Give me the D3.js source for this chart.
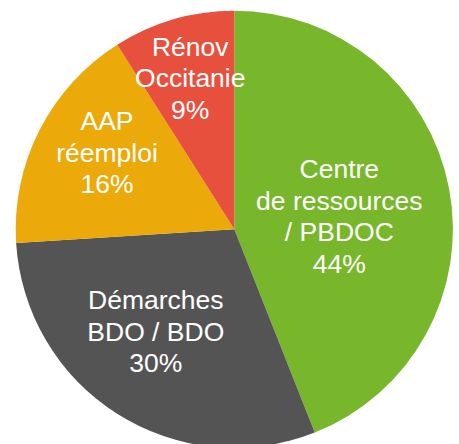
<!DOCTYPE html>
<html>
<head>
<meta charset="utf-8">
<script src="https://cdn.jsdelivr.net/npm/d3@7"></script>
<style>
  html, body { margin: 0; padding: 0; background: #ffffff; }
  svg { display: block; }
</style>
</head>
<body>
<div id="chart"></div>
<script>
// ---- Data ----
const categories = [
  ["Centre", "de ressources", "/ PBDOC"],
  ["Démarches", "BDO / BDO"],
  ["AAP", "réemploi"],
  ["Rénov", "Occitanie"]
];
const values = [44, 30, 17, 9];
const percentLabels = ["44%", "30%", "16%", "9%"];

// ---- Styles ----
const colors = ["#78B72B", "#545454", "#EBAA09", "#E8503E"];
const labelNudges = [[-32.5, 12.9], [-3.5, -16.5], [-2.6, -13.7], [-5, -17]];

const W = 459, H = 444;
const cx = 234.3, cy = 229.3, R = 218.6;
const labelR = 140;
const fontSize = 26.5, lineH = 31.8, capH = 19;

const svg = d3.select("#chart").append("svg")
  .attr("width", W).attr("height", H);

const g = svg.append("g").attr("transform", `translate(${cx},${cy})`);

const pie = d3.pie().sort(null).value(d => d)(values);
const arc = d3.arc().innerRadius(0).outerRadius(R);
const labelArc = d3.arc().innerRadius(labelR).outerRadius(labelR);

g.selectAll("path.slice")
  .data(pie)
  .join("path")
  .attr("class", "slice")
  .attr("d", arc)
  .attr("fill", (d, i) => colors[i]);

pie.forEach((d, i) => {
  const [x0, y0] = labelArc.centroid(d);
  const x = x0 + labelNudges[i][0];
  const y = y0 + labelNudges[i][1];
  const lines = categories[i].concat([percentLabels[i]]);
  const n = lines.length;
  const first = y - (n - 1) * lineH / 2 + capH / 2;
  const t = g.append("text")
    .attr("text-anchor", "middle")
    .attr("fill", "#ffffff")
    .style("font-family", "'Liberation Sans', Arial, Helvetica, sans-serif")
    .style("font-size", fontSize + "px");
  lines.forEach((ln, k) => {
    t.append("tspan")
      .attr("x", x)
      .attr("y", first + k * lineH)
      .text(ln);
  });
});
</script>
</body>
</html>
